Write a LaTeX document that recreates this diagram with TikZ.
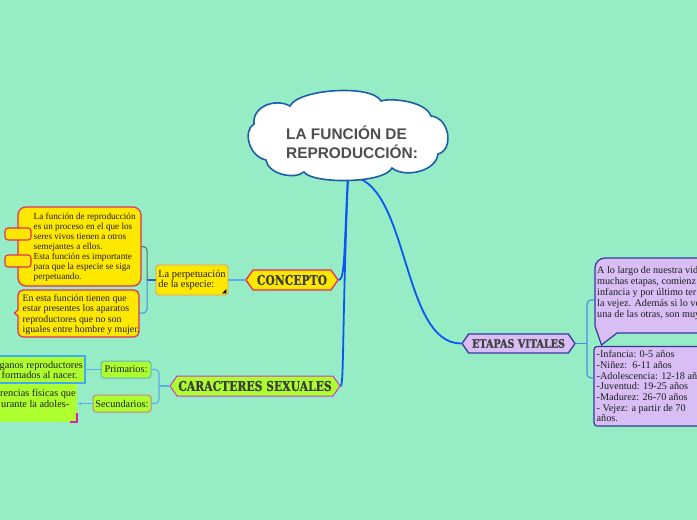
\documentclass[tikz,border=0pt]{standalone}
\usepackage{fontspec}
\usepackage{graphicx}
\setmainfont{Liberation Serif}
\newfontfamily\slabfont{DejaVu Serif}[UprightFont=* Bold, FakeBold=0.9]
\newfontfamily\cloudfont{Liberation Sans}
\usetikzlibrary{shapes.symbols,arrows.meta}
\definecolor{bg}{RGB}{150,236,196}
\definecolor{yel}{RGB}{255,232,0}
\definecolor{redp}{RGB}{226,45,95}
\definecolor{orb}{RGB}{228,160,95}
\definecolor{lime}{RGB}{173,255,47}
\definecolor{magb}{RGB}{200,55,210}
\definecolor{magl}{RGB}{220,30,170}
\definecolor{lav}{RGB}{216,190,244}
\definecolor{dblue}{RGB}{55,55,160}
\definecolor{mainb}{RGB}{15,85,245}
\definecolor{lblue}{RGB}{92,172,232}
\definecolor{mblue}{RGB}{70,140,232}
\definecolor{gconn}{RGB}{80,112,106}
\definecolor{cloudb}{RGB}{29,94,169}
\definecolor{ctext}{RGB}{77,77,77}
\definecolor{slabt}{RGB}{62,62,62}
\definecolor{btext}{RGB}{30,30,30}
\definecolor{pribd}{RGB}{95,180,190}
\definecolor{secbd}{RGB}{195,135,135}
\definecolor{gbox}{RGB}{63,169,245}
\newcommand\fs[2]{\fontsize{#1}{#2}\selectfont}
\newcommand\slabtxt[3]{\scalebox{#2}[1]{\slabfont\fs{#1}{#1}#3}}
\begin{document}
\begin{tikzpicture}[x=1pt,y=-1pt,
  hexa/.style={signal, signal to=west and east, signal pointer angle=110, inner sep=0pt, text=slabt},
  txt/.style={inner sep=0pt, align=left, text=btext},
  conn/.style={draw=lblue, line width=1.1pt},
  main/.style={draw=mainb, line width=1.8pt},
  tabbox/.style={draw=redp, fill=yel, line width=1.1pt, rounded corners=3pt, minimum width=26pt, minimum height=12pt, inner sep=0pt}]
\useasboundingbox (0,0) rectangle (697,520);
\clip (0,0) rectangle (697,520);
\fill[bg] (0,0) rectangle (697,520);

% ---- left: concept branch ----
\node[draw=redp, fill=yel, line width=1.2pt, rounded corners=8pt, minimum width=123pt, minimum height=79pt, inner sep=0pt] (b1) at (79.5,246.5) {};
\node[tabbox] (tab1) at (18,234) {};
\node[tabbox] (tab2) at (18,261) {};
\node[txt, anchor=north west, font=\fs{9.2}{10}] (b1t) at (33.5,212.8) {La función de reproducción\\es un proceso en el que los\\seres vivos tienen a otros\\semejantes a ellos.\\Esta función es importante\\para que la especie se siga\\perpetuando.};
\filldraw[draw=redp, fill=yel, line width=1.2pt] (18,316) [rounded corners=5pt] -- (18,337) -- (139,337) -- (139,290) -- (18,290) [sharp corners] -- (18,310) -- (14.5,313) -- cycle;
\coordinate (b2) at (139,313);
\node[txt, anchor=north west, font=\fs{9.8}{10.3}] (b2t) at (22.5,294.3) {En esta función tienen que\\estar presentes los aparatos\\reproductores que no son\\iguales entre hombre y mujer.};

\node[draw=orb, fill=yel, line width=0.9pt, rounded corners=3pt, minimum width=72pt, minimum height=30pt, inner sep=0pt, align=left, text=btext, font=\fs{10.4}{10.2}] (per) at (192,280) {La perpetuación\\de la especie:};
\fill[black] ([shift={(-2,-2)}]per.south east) -- ([shift={(-6.5,-2)}]per.south east) -- ([shift={(-2,-6.5)}]per.south east) -- cycle;

\node[hexa, fill=yel, draw=redp, line width=1.3pt, minimum width=92pt, minimum height=20pt] (con) at (292,280) {\slabtxt{13.5}{0.8}{CONCEPTO}};

% ---- left: caracteres branch ----
\fill[lime] (-10,356) rectangle (85,383);
\draw[gbox, line width=1.1pt] (-10,356) -- (85,356) -- (85,383) -- (-10,383);
\coordinate (g1) at (85,369.5);
\node[txt, anchor=north west, font=\fs{10.3}{10}] (g1t) at (-0.5,361.5) {ganos reproductores\\\hspace*{2pt}formados al nacer.};
\fill[lime] (-10,384) rectangle (77,422);
\draw[magl, line width=1.3pt] (70,422) -- (77,422) -- (77,413);
\coordinate (g2) at (78,403.5);
\node[txt, anchor=north west, font=\fs{10.3}{10.5}] (g2t) at (0,389.4) {rencias físicas que\\\hspace*{1pt}urante la adoles-};

\node[draw=pribd, fill=lime, line width=1pt, rounded corners=3pt, minimum width=50pt, minimum height=17pt, inner sep=0pt, text=btext, font=\fs{10.3}{10}] (pri) at (126,369.5) {Primarios:};
\node[draw=secbd, fill=lime, line width=1pt, rounded corners=3pt, minimum width=58pt, minimum height=17pt, inner sep=0pt, text=btext, font=\fs{10.3}{10}] (sec) at (122,403.5) {Secundarios:};

\node[hexa, fill=lime, draw=magb, line width=1pt, minimum width=170pt, minimum height=20pt] (car) at (255,386) {\slabtxt{13.5}{0.8}{CARACTERES SEXUALES}};

% ---- right: etapas branch ----
\filldraw[fill=lav, draw=dblue, line width=1.2pt] (595,326) [rounded corners=10pt] -- (595,258) -- (720,258) [sharp corners] -- (720,333) -- (617,333) -- (601.5,345) -- cycle;
\coordinate (bub) at (595,300);
\node[txt, anchor=north west, font=\fs{10.2}{11}] (bubt) at (597,266.5) {A lo largo de nuestra vid\\muchas etapas, comienz\\infancia y por último ter\\la vejez. Además si lo ver\\una de las otras, son muy};
\draw[fill=lav, draw=dblue, line width=1.2pt, rounded corners=3pt] (594,346.5) rectangle (720,426);
\coordinate (age) at (594,378);
\node[txt, anchor=north west, font=\fs{10.2}{10.65}] (aget) at (596.5,350.5) {-Infancia: 0-5 años\\-Niñez:\ \ 6-11 años\\-Adolescencia: 12-18 años\\-Juventud: 19-25 años\\-Madurez: 26-70 años\\- Vejez: a partir de 70\\años.};

\node[hexa, fill=lav, draw=dblue, line width=1.3pt, minimum width=113pt, minimum height=19pt] (et) at (518.5,343.5) {\slabtxt{11.6}{0.83}{ETAPAS VITALES}};

% ---- connectors ----
\draw[conn] (con.west) -- (per.east);
\coordinate (pj) at (147,280);
\draw[draw=dblue!70!lblue, line width=1.1pt] (per.west) -- (pj);
\draw[draw=gconn, line width=1pt, rounded corners=4pt] (pj) |- (b1.east);
\draw[draw=mblue, line width=1pt, rounded corners=4pt] (pj) |- (b2);

\coordinate (cj) at (159,386);
\draw[conn] (car.west) -- (cj);
\draw[conn, rounded corners=4pt] (cj) |- (pri.east);
\draw[conn, rounded corners=4pt] (cj) |- (sec.east);
\draw[conn] (pri.west) -- (g1);
\draw[conn, -{Stealth[length=3pt,width=3pt]}] (sec.west) -- (g2);

\coordinate (ej) at (587,343.5);
\draw[draw=mblue, line width=1.1pt] (et.east) -- (ej);
\draw[draw=mblue, line width=1.1pt, rounded corners=4pt] (ej) |- (bub);
\draw[draw=mblue, line width=1.1pt, rounded corners=4pt] (ej) |- (age);

\coordinate (rootb) at (348,176);
\draw[main] (rootb) .. controls (344,250) and (345,280) .. (con.east);
\draw[main] (rootb) .. controls (342,330) and (344,386) .. (car.east);
\draw[main] (rootb) .. controls (410,178) and (400,343.5) .. (et.west);

% ---- cloud root ----
\filldraw[fill=white, draw=cloudb, line width=1.6pt] (254,124) .. controls (252,106) and (276,98) .. (290,106) .. controls (298,89) and (372,84) .. (381,101) .. controls (388,98) and (425,100) .. (431,116) .. controls (450,118) and (454,150) .. (438,154) .. controls (436,172) and (404,178) .. (392,168) .. controls (384,184) and (312,184) .. (304,172) .. controls (294,180) and (268,174) .. (266,160) .. controls (248,156) and (243,130) .. (254,124) -- cycle;
\node[inner sep=0pt, anchor=west, align=left, text=ctext, font=\cloudfont\bfseries\fs{15.4}{19}] (root) at (286,142.5) {LA FUNCIÓN DE\\REPRODUCCIÓN:};
\end{tikzpicture}
\end{document}
